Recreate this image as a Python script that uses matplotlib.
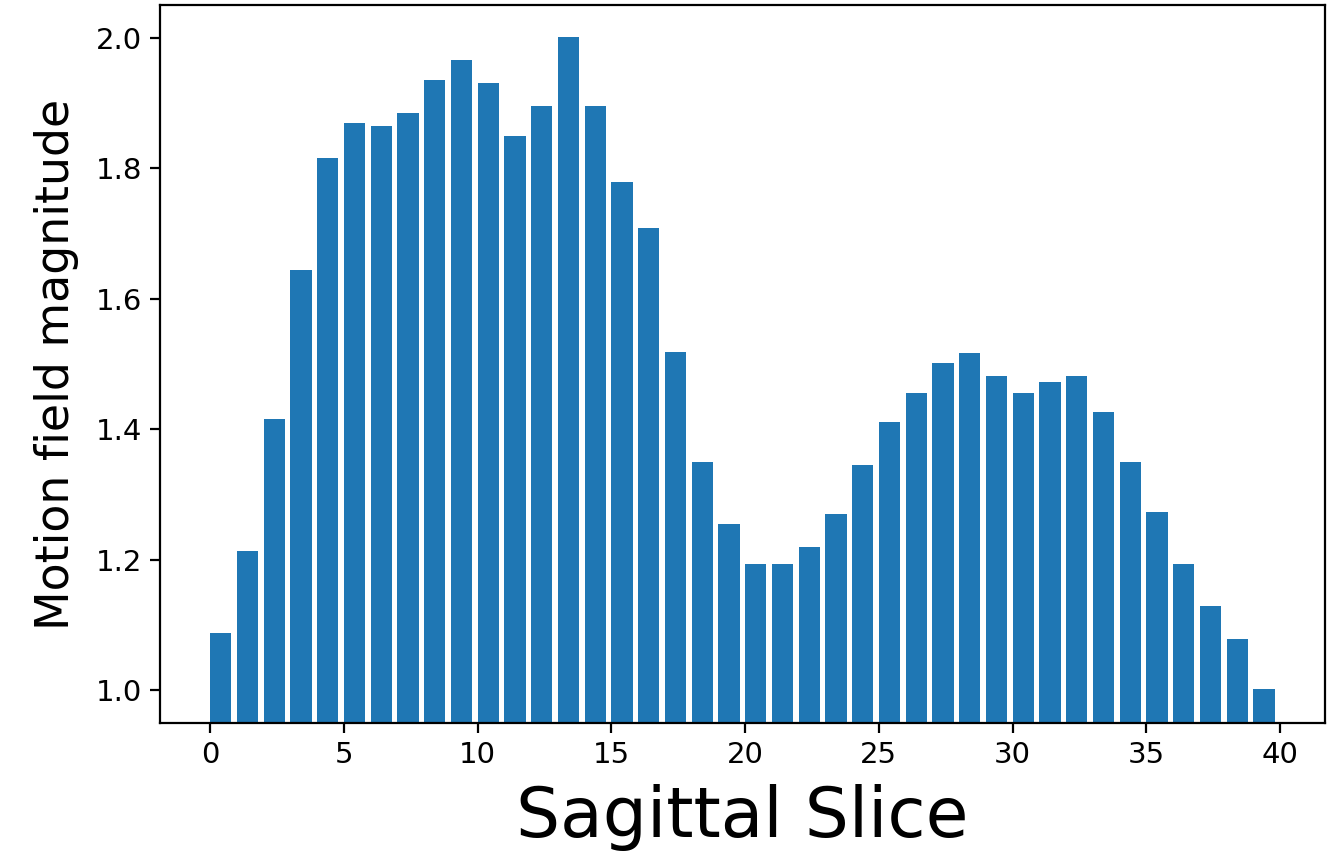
import numpy as np
import matplotlib.pyplot as plt

# slice index and mean motion magnitude per slice
slices = list(range(40))
magnitude = [
    1.088, 1.213, 1.416, 1.644, 1.816, 1.870, 1.865, 1.885, 1.936, 1.966,
    1.931, 1.850, 1.896, 2.001, 1.896, 1.779, 1.709, 1.518, 1.350, 1.255,
    1.194, 1.194, 1.220, 1.270, 1.346, 1.411, 1.456, 1.502, 1.517, 1.481,
    1.456, 1.472, 1.481, 1.426, 1.350, 1.274, 1.194, 1.129, 1.078, 1.002,
]

fig = plt.figure(figsize=(13.39, 8.52), dpi=100)
ax = fig.add_axes([0.1195, 0.1514, 0.87, 0.8426])

ax.bar(slices, magnitude, width=0.8, align='edge', color='#1f77b4')
ax.set_xlim(-1.87, 41.68)
ax.set_ylim(0.95, 2.05)
ax.set_yticks([1.0, 1.2, 1.4, 1.6, 1.8, 2.0])
ax.set_xticks([0, 5, 10, 15, 20, 25, 30, 35, 40])

ax.set_xlabel('Sagittal Slice', fontsize=50, labelpad=11)
ax.set_ylabel('Motion field magnitude', fontsize=33, labelpad=12)
ax.tick_params(labelsize=21, length=7, width=1.6, pad=6)
for s in ax.spines.values():
    s.set_linewidth(1.6)

fig.savefig('out.png', dpi=100)
